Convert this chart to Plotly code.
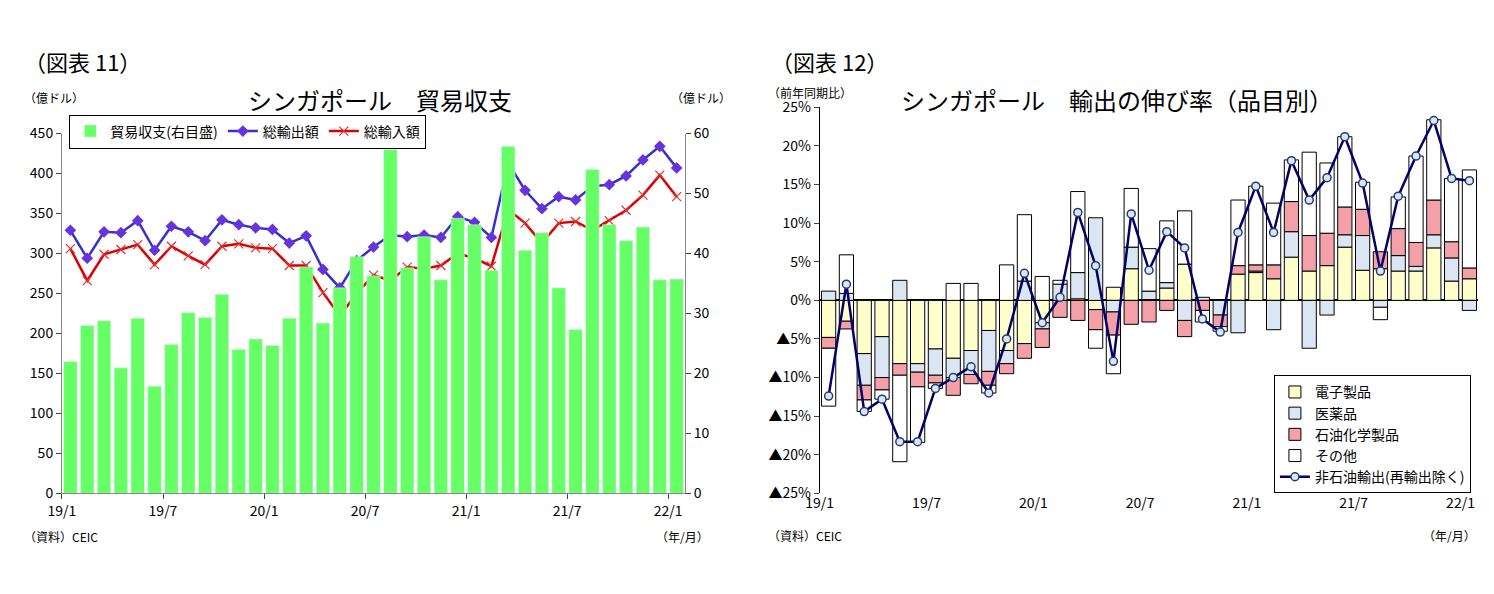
import plotly.graph_objects as go

FONT = "Noto Sans CJK JP"

# ---- chart 11: trade balance ----
months = list(range(37))
balance = [165, 210, 216, 157, 219, 134, 186, 226, 220, 249, 180, 193, 185, 219,
           283, 213, 257, 296, 272, 430, 282, 321, 267, 344, 336, 279, 434, 304,
           326, 257, 205, 405, 336, 316, 333, 267, 268]
balance = [v / 7.5 for v in balance]  # read on left scale -> right scale (億ドル)
exports = [329, 294, 327, 326, 341, 304, 334, 327, 316, 342, 336, 332, 330, 313,
           322, 280, 257, 291, 308, 323, 321, 323, 320, 346, 339, 320, 413, 379,
           356, 371, 367, 384, 386, 397, 417, 434, 407]
imports = [306, 266, 299, 305, 311, 286, 309, 297, 286, 309, 312, 307, 306, 285,
           285, 251, 222, 250, 273, 266, 283, 281, 285, 300, 294, 284, 355, 338,
           313, 338, 340, 329, 341, 354, 373, 398, 371]

# ---- chart 12: export growth by product ----
electronics = [-4.8, -2.7, -6.9, -4.7, -8.2, -8.2, -6.3, -7.5, -6.5, -3.9, -6.5, -5.6, -2.9, 0,
               0.2, -1.2, 1.7, 4.1, 0.1, 1.6, 4.7, 0, 0, 3.4, 3.6, 2.8, 5.6, 3.8,
               4.5, 6.9, 3.9, 4.1, 3.8, 3.8, 6.8, 2.5, 2.8]
pharma = [1.2, 0.9, -4.1, -5.3, 2.6, -1.1, -3.4, -2.5, -3.1, -5.3, -1.7, 2.5, -0.8, 2.1,
          3.4, 10.7, -1.5, 2.8, 1.1, 0.7, -2.6, 0.4, -1.9, -4.2, 0.2, -3.8, 3.3, -6.2,
          -1.9, 1.6, 4.5, -0.9, 2.0, 0.6, 1.7, 3.0, -1.3]
petrochem = [-1.4, -1.0, -1.9, -1.6, -1.5, -1.9, -1.0, -2.3, -1.2, -1.8, -1.3, -1.9, -2.4, -2.2,
             -2.6, -2.6, -3.0, -3.1, -2.8, -1.3, -2.1, -1.3, -1.5, 1.1, 0.8, 1.8, 3.9, 4.6,
             4.2, 3.6, 3.4, 2.2, 3.5, 3.1, 4.5, 2.1, 1.4]
other = [-7.5, 5.0, -1.5, -1.2, -11.2, -7.2, -0.7, 2.2, 2.2, -1.0, 4.6, 8.6, 3.1, 0.5,
         10.5, -2.4, -5.0, 7.6, 5.5, 8.0, 6.9, -1.5, -0.6, 8.5, 10.2, 8.0, 5.4, 10.8,
         9.1, 9.1, 3.5, -1.6, 4.1, 11.2, 10.4, 8.2, 12.7]
nonoil = [-12.4, 2.1, -14.4, -12.8, -18.3, -18.3, -11.4, -10, -8.6, -12, -5, 3.5, -2.9, 0.4,
          11.4, 4.5, -7.9, 11.2, 3.9, 8.9, 6.8, -2.4, -4.1, 8.8, 14.8, 8.8, 18.1, 13,
          15.9, 21.2, 15.2, 3.8, 13.5, 18.7, 23.3, 15.8, 15.5]

tick_pos = [-0.5, 5.5, 11.5, 17.5, 23.5, 29.5, 35.5]
tick_txt = ["19/1", "19/7", "20/1", "20/7", "21/1", "21/7", "22/1"]

fig = go.Figure()

fig.add_trace(go.Bar(x=months, y=balance, name="貿易収支(右目盛)", marker_color="#66FF66",
                     xaxis="x", yaxis="y2", legend="legend"))
fig.add_trace(go.Scatter(x=months, y=exports, name="総輸出額", mode="lines+markers",
                         line=dict(color="#3333CC", width=2.5),
                         marker=dict(symbol="diamond", size=9, color="#6633DD"),
                         xaxis="x", yaxis="y", legend="legend"))
fig.add_trace(go.Scatter(x=months, y=imports, name="総輸入額", mode="lines+markers",
                         line=dict(color="#DD0000", width=2.5),
                         marker=dict(symbol="x-thin", size=9, line=dict(color="#DD3333", width=1.2)),
                         xaxis="x", yaxis="y", legend="legend"))

for name, vals, col in [("電子製品", electronics, "#FFFFCC"), ("医薬品", pharma, "#DCE6F2"),
                        ("石油化学製品", petrochem, "#F4A0A8"), ("その他", other, "#FFFFFF")]:
    fig.add_trace(go.Bar(x=months, y=vals, name=name, marker=dict(color=col, line=dict(color="black", width=1)),
                         xaxis="x3", yaxis="y3", legend="legend2"))
fig.add_trace(go.Scatter(x=months, y=nonoil, name="非石油輸出(再輸出除く)", mode="lines+markers",
                         line=dict(color="#000066", width=2.5),
                         marker=dict(symbol="circle", size=8, color="#DCE6F2", line=dict(color="#1F3C78", width=1.5)),
                         xaxis="x3", yaxis="y3", legend="legend2"))

axfont = dict(family=FONT, size=14, color="black")
fig.update_layout(
    width=1494, height=594, margin=dict(l=0, r=0, t=0, b=0),
    paper_bgcolor="white", plot_bgcolor="white",
    barmode="relative", bargap=0.2,
    font=dict(family=FONT, color="black"),
    xaxis=dict(domain=[0.027, 0.448], range=[-0.5, 36.5], tickvals=tick_pos, ticktext=tick_txt,
               ticks="outside", ticklen=5, showline=True, linecolor="#888", showgrid=False,
               tickfont=axfont, anchor="y"),
    yaxis=dict(domain=[0.1736, 0.8005], range=[0, 450], dtick=50, ticks="outside", showline=True,
               linecolor="#888", showgrid=False, tickfont=axfont, anchor="x"),
    yaxis2=dict(domain=[0.1736, 0.8005], range=[0, 60], dtick=10, overlaying="y", side="right",
                ticks="outside", showline=True, linecolor="#888", showgrid=False, tickfont=axfont, anchor="x"),
    xaxis3=dict(domain=[0.539, 0.984], range=[-0.5, 36.5], tickvals=tick_pos, ticktext=tick_txt,
                showline=False, showgrid=False, tickfont=axfont, anchor="y3"),
    yaxis3=dict(domain=[0.1736, 0.846], range=[-25, 25], tickvals=list(range(-25, 30, 5)),
                ticktext=["▲%d%%" % -v if v < 0 else "%d%%" % v for v in range(-25, 30, 5)],
                ticks="outside", showline=True, linecolor="black", showgrid=False,
                zeroline=True, zerolinecolor="black", zerolinewidth=1.5, tickfont=axfont, anchor="x3"),
    legend=dict(orientation="h", x=0.032, y=0.804, xanchor="left", yanchor="middle",
                bgcolor="white", bordercolor="black", borderwidth=1,
                font=dict(family=FONT, size=14), traceorder="normal", itemwidth=30),
    legend2=dict(x=0.979, y=0.1736, xanchor="right", yanchor="bottom",
                 bgcolor="white", bordercolor="black", borderwidth=1,
                 font=dict(family=FONT, size=14), traceorder="normal"),
)

def note(x, y, text, size=13, xanchor="left"):
    fig.add_annotation(x=x, y=y, xref="paper", yref="paper", text=text, showarrow=False,
                       xanchor=xanchor, yanchor="middle", font=dict(family=FONT, size=size, color="black"))

note(0.0, 1 - 43 / 594, "（図表 11）", size=22)
note(0.505, 1 - 43 / 594, "（図表 12）", size=22)
note(0.242, 1 - 83 / 594, "シンガポール　貿易収支", size=24, xanchor="center")
note(0.740, 1 - 83 / 594, "シンガポール　輸出の伸び率（品目別）", size=24, xanchor="center")
note(0.0, 1 - 81 / 594, "（億ドル）", size=12)
note(0.437, 1 - 81 / 594, "（億ドル）", size=12)
note(0.503, 1 - 76 / 594, "（前年同期比）", size=12)
note(0.0, 1 - 536 / 594, "（資料）CEIC", size=12)
note(0.427, 1 - 536 / 594, "（年/月）", size=12)
note(0.503, 1 - 534 / 594, "（資料）CEIC", size=12)
note(0.945, 1 - 534 / 594, "（年/月）", size=12)

fig.write_html("out.html")
